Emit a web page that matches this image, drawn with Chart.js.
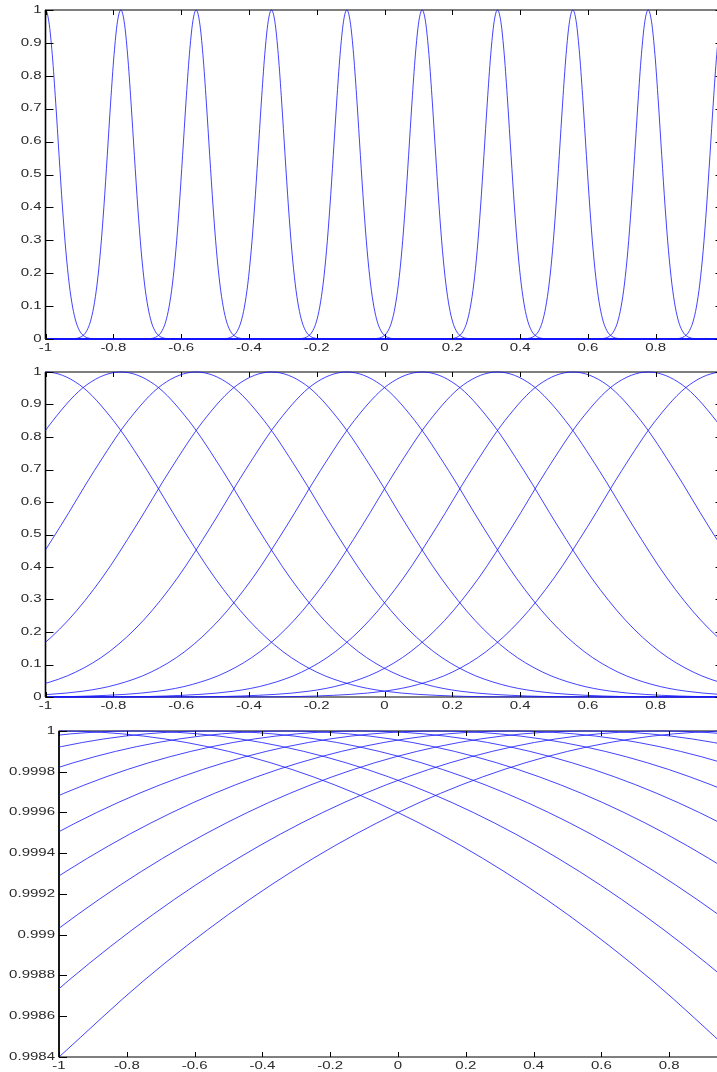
<!DOCTYPE html>
<html>
<head>
<meta charset="utf-8">
<script src="https://cdn.jsdelivr.net/npm/chart.js@4.4.1/dist/chart.umd.min.js"></script>
<style>
  html, body { margin: 0; padding: 0; background: #fff; overflow: hidden; }
  #page { position: relative; width: 717px; height: 1072px; overflow: hidden; background: #fff; }
  canvas { position: absolute; left: 0; }
</style>
</head>
<body>
<div id="page">
  <canvas id="panelA" width="760" height="360" style="top:0"></canvas>
  <canvas id="panelB" width="760" height="360" style="top:360px"></canvas>
  <canvas id="panelC" width="760" height="352" style="top:720px"></canvas>
</div>
<script>
// kernel centres, same for all three panels
const centres = [-1, -0.7778, -0.5556, -0.3333, -0.1111, 0.1111, 0.3333, 0.5556, 0.7778, 1];

// one-sided kernel profiles: value at a given distance from the centre
const narrowDist = [0, 0.01, 0.02, 0.03, 0.04, 0.05, 0.06, 0.07, 0.08, 0.09, 0.10, 0.11, 0.13, 0.16, 2.2];
const narrowVal  = [1, 0.964, 0.864, 0.72, 0.558, 0.401, 0.268, 0.167, 0.097, 0.052, 0.026, 0.012, 0.002, 0, 0];

const mediumDist = [0, 0.1, 0.2, 0.3, 0.4, 0.5, 0.6, 0.7, 0.8, 0.9, 1.0, 1.2, 1.4, 1.7, 2.2];
const mediumVal  = [1, 0.961, 0.851, 0.697, 0.526, 0.366, 0.236, 0.14, 0.0765, 0.0387, 0.018, 0.0031, 0.0004, 0, 0];

const wideDist = [0, 0.25, 0.5, 0.75, 1.0, 1.25, 1.5, 1.75, 2.0];
const wideVal  = [1, 0.999975, 0.9999, 0.999775, 0.9996, 0.999375, 0.9991, 0.998775, 0.9984];

// axis ticks
const xTicks  = [-1, -0.8, -0.6, -0.4, -0.2, 0, 0.2, 0.4, 0.6, 0.8, 1];
const xLabels = ['-1', '-0.8', '-0.6', '-0.4', '-0.2', '0', '0.2', '0.4', '0.6', '0.8', '1'];
const unitTicks  = [0, 0.1, 0.2, 0.3, 0.4, 0.5, 0.6, 0.7, 0.8, 0.9, 1];
const unitLabels = ['0', '0.1', '0.2', '0.3', '0.4', '0.5', '0.6', '0.7', '0.8', '0.9', '1'];
const nearOneTicks  = [0.9984, 0.9986, 0.9988, 0.999, 0.9992, 0.9994, 0.9996, 0.9998, 1];
const nearOneLabels = ['0.9984', '0.9986', '0.9988', '0.999', '0.9992', '0.9994', '0.9996', '0.9998', '1'];

function kernel(c, dist, val) {
    const pts = [];
    for (let i = dist.length - 1; i > 0; i--) pts.push({ x: c - dist[i], y: val[i] });
    for (let i = 0; i < dist.length; i++) pts.push({ x: c + dist[i], y: val[i] });
    return pts;
}

function stretchText(ctx, text, x, y, align) {
    ctx.save();
    ctx.translate(x, y);
    ctx.scale(1.5, 1);
    ctx.textAlign = align;
    ctx.textBaseline = 'middle';
    ctx.fillText(text, 0, 0);
    ctx.restore();
}

// box, inward ticks and labels, drawn by hand
const framePlugin = {
    id: 'frame',
    beforeDatasetsDraw(chart) {
        const { ctx, chartArea: a } = chart;
        ctx.save();
        ctx.strokeStyle = '#000';
        ctx.lineWidth = 1;
        ctx.strokeRect(a.left, a.top, a.right - a.left, a.bottom - a.top);
        ctx.lineWidth = 1.6;
        ctx.beginPath();
        ctx.moveTo(a.left, a.top);
        ctx.lineTo(a.left, a.bottom);
        ctx.stroke();
        ctx.restore();
    },
    afterDatasetsDraw(chart, args, opts) {
        const { ctx, chartArea: a, scales } = chart;
        ctx.save();
        ctx.strokeStyle = '#000';
        ctx.lineWidth = 1;
        ctx.beginPath();
        scales.x.ticks.forEach(t => {
            const px = Math.round(scales.x.getPixelForValue(t.value)) + 0.5;
            ctx.moveTo(px, a.bottom); ctx.lineTo(px, a.bottom - 5);
            ctx.moveTo(px, a.top); ctx.lineTo(px, a.top + 5);
        });
        scales.y.ticks.forEach(t => {
            const py = Math.round(scales.y.getPixelForValue(t.value)) + 0.5;
            ctx.moveTo(a.left, py); ctx.lineTo(a.left + 8, py);
            ctx.moveTo(a.right, py); ctx.lineTo(a.right - 8, py);
        });
        ctx.stroke();

        ctx.fillStyle = '#2a2a2a';
        ctx.font = '10px "Liberation Sans", Arial, sans-serif';
        scales.x.ticks.forEach((t, i) => {
            stretchText(ctx, opts.xLabels[i], scales.x.getPixelForValue(t.value), a.bottom + 9, 'center');
        });
        scales.y.ticks.forEach((t, i) => {
            stretchText(ctx, opts.yLabels[i], a.left - 4, scales.y.getPixelForValue(t.value), 'right');
        });
        ctx.restore();
    }
};

function makePanel(id, dist, val, yMin, yMax, yTicks, yLabels, pad) {
    new Chart(document.getElementById(id), {
        type: 'line',
        data: {
            datasets: centres.map(c => ({
                data: kernel(c, dist, val),
                borderColor: 'rgba(20, 20, 255, 0.8)',
                borderWidth: 1,
                pointRadius: 0,
                fill: false,
                cubicInterpolationMode: 'monotone',
                clip: { left: 0, right: 0, top: 2, bottom: 2 }
            }))
        },
        options: {
            responsive: false,
            devicePixelRatio: 1,
            animation: false,
            layout: { padding: pad },
            plugins: {
                legend: { display: false },
                tooltip: { enabled: false },
                frame: { xLabels: xLabels, yLabels: yLabels }
            },
            scales: {
                x: {
                    type: 'linear',
                    display: false,
                    min: -1,
                    max: 1,
                    afterBuildTicks: s => { s.ticks = xTicks.map(v => ({ value: v })); }
                },
                y: {
                    type: 'linear',
                    display: false,
                    min: yMin,
                    max: yMax,
                    afterBuildTicks: s => { s.ticks = yTicks.map(v => ({ value: v })); }
                }
            }
        },
        plugins: [framePlugin]
    });
}

makePanel('panelA', narrowDist, narrowVal, 0, 1, unitTicks, unitLabels,
    { left: 45.5, right: 36.5, top: 10, bottom: 21 });
makePanel('panelB', mediumDist, mediumVal, 0, 1, unitTicks, unitLabels,
    { left: 45.5, right: 36.5, top: 12, bottom: 23 });
makePanel('panelC', wideDist, wideVal, 0.9984, 1, nearOneTicks, nearOneLabels,
    { left: 59, right: 23, top: 11, bottom: 15 });
</script>
</body>
</html>
